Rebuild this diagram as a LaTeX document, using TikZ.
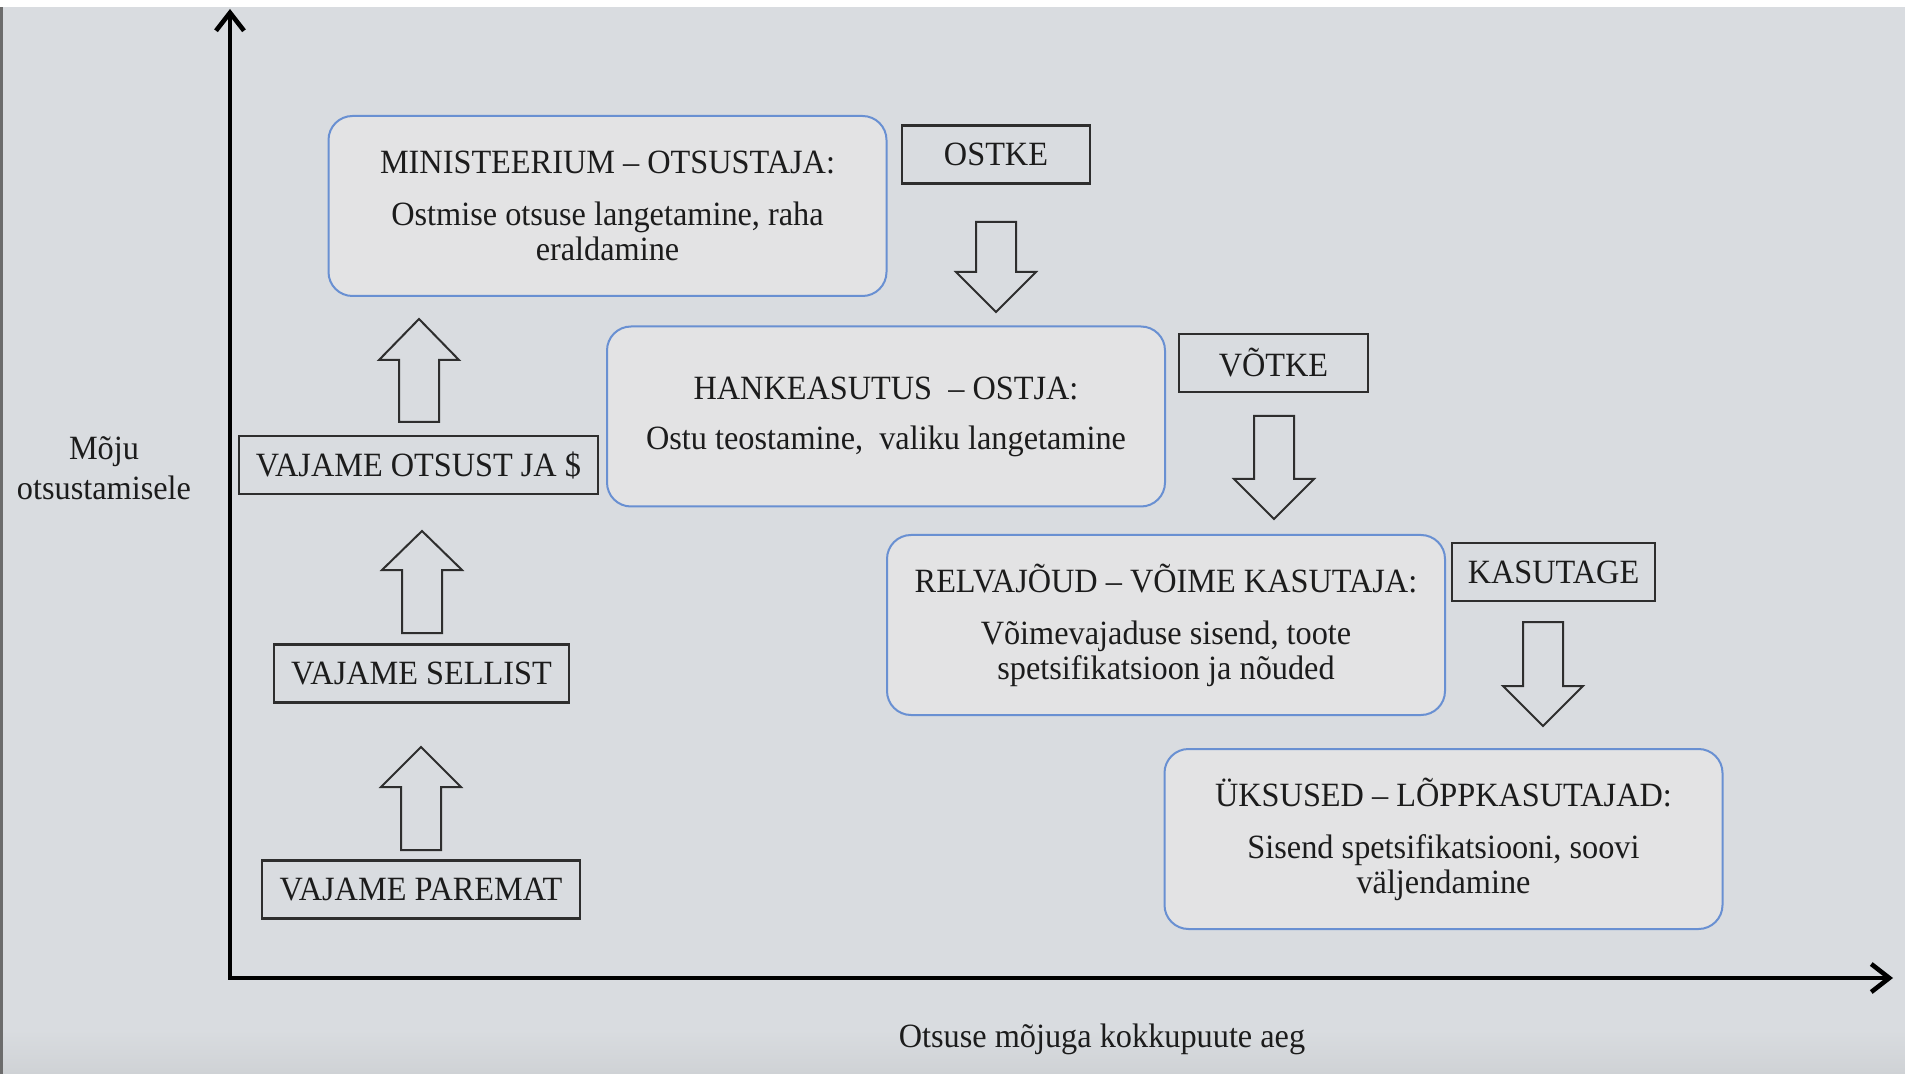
\documentclass[tikz,border=0pt]{standalone}
\usepackage{fontspec}
\setmainfont{Liberation Serif}[FakeStretch=0.95]
\usetikzlibrary{arrows.meta}
\definecolor{bgc}{HTML}{D9DCE0}
\definecolor{bgdark}{HTML}{CFD2D5}
\definecolor{boxfill}{HTML}{E3E3E4}
\definecolor{boxblue}{HTML}{6990D2}
\definecolor{inkc}{HTML}{1C1C1C}
\definecolor{edgec}{HTML}{2E2E2E}
\newcommand\blkup[4]{%
  \draw[blockarr] (#1,#2) -- (#1+40,#3) -- (#1+20,#3) -- (#1+20,#4) -- (#1-20,#4) -- (#1-20,#3) -- (#1-40,#3) -- cycle;}
\newcommand\blkdown[4]{%
  \draw[blockarr] (#1-20,#2) -- (#1+20,#2) -- (#1+20,#3) -- (#1+40,#3) -- (#1,#4) -- (#1-40,#3) -- (#1-20,#3) -- cycle;}
\begin{document}
\begin{tikzpicture}[x=0.5pt,y=-0.5pt,
  txt/.style={text=inkc,font=\fontsize{17}{17.5}\selectfont},
  blob/.style={txt,draw=boxblue,line width=1pt,fill=boxfill,rounded corners=12pt,
    minimum width=279pt,minimum height=90pt,align=center,inner sep=0pt},
  tag/.style={txt,draw=edgec,line width=1.25pt,minimum height=29pt,inner sep=0pt},
  blockarr/.style={draw=edgec,line width=1pt,fill=bgc,line join=miter},
  axis/.style={line width=2.3pt,black,{Straight Barb[length=9pt,width=14pt]}-{Straight Barb[length=9pt,width=14pt]}},
  lbl/.style={txt,align=center,font=\fontsize{17}{20}\selectfont}]
\useasboundingbox (0,0) rectangle (1905,1074);
% background
\fill[bgc] (0,0) rectangle (1905,1074);
\shade[top color=bgc,bottom color=bgdark] (0,1030) rectangle (1905,1074);
\fill[white] (0,0) rectangle (1905,7);
\fill[gray!85!black] (0,7) rectangle (2.5,1074);
% axes
\coordinate (ytip) at (230,9);
\coordinate (orig) at (230,978);
\coordinate (xtip) at (1893,978);
\draw[axis,line join=miter] (ytip) -- (orig) -- (xtip);
\node[lbl] (ylab) at (104,468) {Mõju\\otsustamisele};
\node[lbl] (xlab) at (1102,1039) {Otsuse mõjuga kokkupuute aeg};
% rounded boxes
\node[blob] (min) at (607.5,206) {MINISTEERIUM – OTSUSTAJA:\\[8.5pt] Ostmise otsuse langetamine, raha\\ eraldamine};
\node[blob] (hank) at (886,416.5) {HANKEASUTUS\ \ – OSTJA:\\[7.5pt] Ostu teostamine,\ \ valiku langetamine};
\node[blob] (relv) at (1166,625) {RELVAJÕUD – VÕIME KASUTAJA:\\[8.5pt] Võimevajaduse sisend, toote\\ spetsifikatsioon ja nõuded};
\node[blob] (uks) at (1443.5,839) {ÜKSUSED – LÕPPKASUTAJAD:\\[8.5pt] Sisend spetsifikatsiooni, soovi\\ väljendamine};
% square tags
\node[tag,minimum width=94pt] (ostke) at (996,154.5) {OSTKE};
\node[tag,minimum width=94.5pt] (votke) at (1273.5,363) {VÕTKE};
\node[tag,minimum width=101.5pt] (kasut) at (1553.5,572) {KASUTAGE};
\node[tag,minimum width=179.5pt] (otsust) at (418.5,465) {VAJAME OTSUST JA \$};
\node[tag,minimum width=147.5pt] (sellist) at (421.5,673.5) {VAJAME SELLIST};
\node[tag,minimum width=159pt] (paremat) at (421,889.5) {VAJAME PAREMAT};
% block arrows
\blkup{419}{319}{360}{422}
\blkup{422}{531}{570}{633}
\blkup{421}{747}{787}{850}
\blkdown{996}{222}{272}{312}
\blkdown{1274}{416}{479}{519}
\blkdown{1543}{622}{686}{726}
\end{tikzpicture}
\end{document}
